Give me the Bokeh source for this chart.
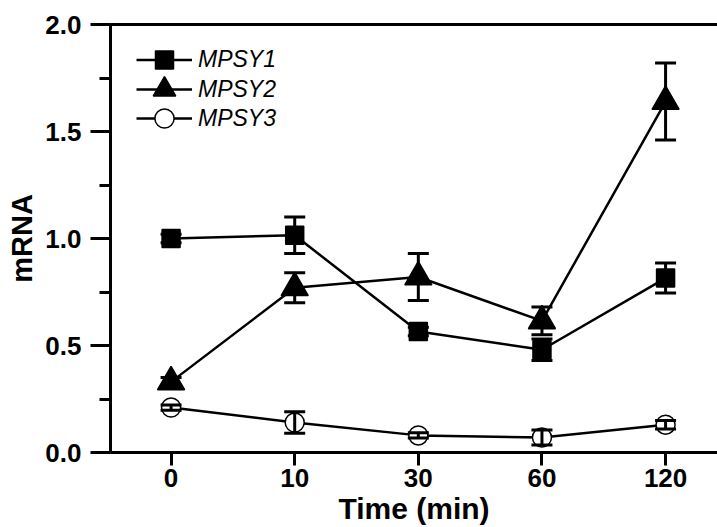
from bokeh.plotting import figure
from bokeh.models import (Range1d, LinearAxis, SingleIntervalTicker, FixedTicker,
                          NumeralTickFormatter, Whisker, TeeHead, ColumnDataSource,
                          Legend, LegendItem)
from bokeh.embed import file_html
from bokeh.resources import INLINE

# ---- data ----
time_labels = ["0", "10", "30", "60", "120"]
mpsy1 = [1.00, 1.015, 0.565, 0.48, 0.815]
mpsy1_err = [0.02, 0.085, 0.02, 0.05, 0.07]
mpsy2 = [0.33, 0.77, 0.82, 0.615, 1.64]
mpsy2_err = [0.02, 0.07, 0.11, 0.065, 0.18]
mpsy3 = [0.21, 0.14, 0.08, 0.07, 0.13]
mpsy3_err = [0.012, 0.05, 0.012, 0.035, 0.02]
series_names = ["MPSY1", "MPSY2", "MPSY3"]

xs = list(range(len(time_labels)))
FONT = "Liberation Sans"

p = figure(width=717, height=527, output_backend="svg", toolbar_location=None,
           x_range=Range1d(-0.49, 4.42), y_range=Range1d(0, 2.0),
           min_border_left=110, min_border_right=0, min_border_top=24,
           min_border_bottom=75)
p.background_fill_color = "white"
p.border_fill_color = "white"
p.outline_line_color = None
p.xgrid.visible = False
p.ygrid.visible = False

# x axis
xa = p.xaxis[0]
xa.ticker = FixedTicker(ticks=xs)
xa.major_label_overrides = {i: lab for i, lab in zip(xs, time_labels)}
xa.minor_tick_line_color = None
xa.axis_label = "Time (min)"

# y axis
ya = p.yaxis[0]
ya.ticker = SingleIntervalTicker(interval=0.5, num_minor_ticks=2)
ya.formatter = NumeralTickFormatter(format="0.0")
ya.axis_label = "mRNA"

for ax in (xa, ya):
    ax.axis_line_width = 3
    ax.major_tick_line_width = 3
    ax.minor_tick_line_width = 3
    ax.major_tick_in = 0
    ax.minor_tick_in = 0
    ax.major_label_text_font = FONT
    ax.major_label_text_font_style = "bold"
    ax.major_label_text_font_size = "26px"
    ax.major_label_text_color = "black"
    ax.axis_label_text_font = FONT
    ax.axis_label_text_font_style = "bold"
    ax.axis_label_text_color = "black"

xa.major_tick_out = 13
xa.major_label_standoff = 3
xa.axis_label_standoff = 2
xa.axis_label_text_font_size = "30px"

ya.major_tick_out = 20
ya.minor_tick_out = 11
ya.major_label_standoff = 9
ya.axis_label_standoff = 4
ya.axis_label_text_font_size = "29px"

# top border line (no ticks, no labels)
top = LinearAxis(axis_line_width=3, ticker=FixedTicker(ticks=[]),
                 major_tick_line_color=None, minor_tick_line_color=None,
                 major_label_standoff=0)
p.add_layout(top, "above")

markers = [("square", 18), ("triangle", 27), ("circle", 19)]
fills = ["black", "black", "white"]
vals = [mpsy1, mpsy2, mpsy3]
errs = [mpsy1_err, mpsy2_err, mpsy3_err]
# legend layout: glyph box height (legend marker size = 0.4*box), row centre from frame top
legend_boxes = [45, 56, 48]
legend_centres = [36, 65, 94]

renderers = []
for name, v, e, (mk, sz), fc in zip(series_names, vals, errs, markers, fills):
    src = ColumnDataSource(dict(x=xs, y=v,
                                lo=[a - b for a, b in zip(v, e)],
                                hi=[a + b for a, b in zip(v, e)]))
    lr = p.line("x", "y", source=src, line_color="black", line_width=2.5)
    sr = p.scatter("x", "y", source=src, marker=mk, size=sz, fill_color=fc,
                   line_color="black", line_width=1.5)
    w = Whisker(base="x", lower="lo", upper="hi", source=src,
                line_color="black", line_width=3,
                upper_head=TeeHead(size=21, line_width=3, line_color="black"),
                lower_head=TeeHead(size=21, line_width=3, line_color="black"))
    w.level = "overlay"
    p.add_layout(w)
    renderers.append((name, lr, sr))

frame_h = 527 - 24 - 75
for (name, lr, sr), box, cy in zip(renderers, legend_boxes, legend_centres):
    vy = int(round(frame_h - cy - box / 2))
    lg = Legend(items=[LegendItem(label=name, renderers=[lr, sr])],
                location=(26, vy), margin=0, padding=0,
                glyph_width=56, glyph_height=box, label_height=box, spacing=0,
                label_standoff=6, label_text_font=FONT,
                label_text_font_style="italic", label_text_font_size="23px",
                label_text_color="black",
                background_fill_alpha=0, border_line_color=None)
    p.add_layout(lg)

open("out.html", "w").write(file_html(p, INLINE))
